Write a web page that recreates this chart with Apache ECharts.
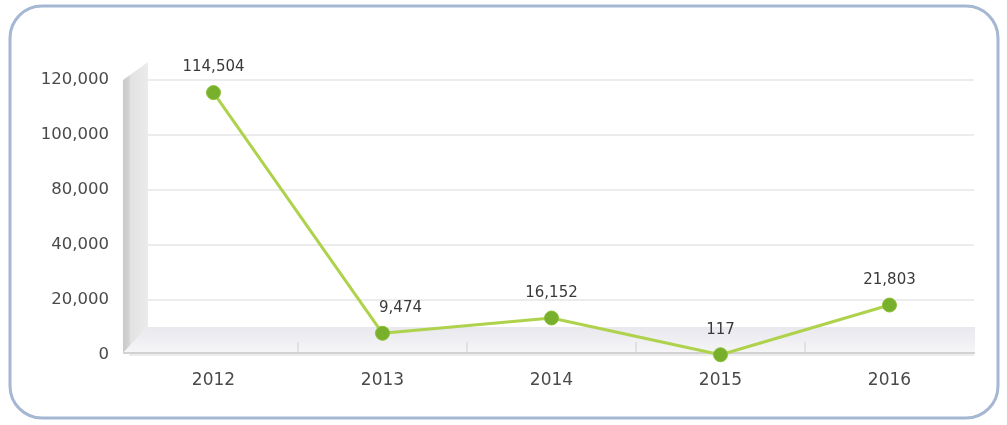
<!DOCTYPE html>
<html><head><meta charset="utf-8">
<script src="https://cdn.jsdelivr.net/npm/echarts@6/dist/echarts.min.js"></script>
<style>html,body{margin:0;padding:0;background:#fff}#c{width:1007px;height:425px}</style>
</head><body><div id="c"></div>
<script>
const categories = ['2012', '2013', '2014', '2015', '2016'];
const values = [114504, 9474, 16152, 117, 21803];
const yTickLabels = ['0', '20,000', '40,000', '80,000', '100,000', '120,000'];
const yMax = 120000;
const yStep = yMax / (yTickLabels.length - 1);

const chart = echarts.init(document.getElementById('c'), null, {renderer: 'canvas'});
const font = "'DejaVu Sans', Verdana, sans-serif";
const seriesData = values.map((v, i) => i === 1 ? {value: v, label: {offset: [18, 0]}} : v);
chart.setOption({
  animation: false,
  backgroundColor: '#ffffff',
  graphic: [
    {type: 'rect', z: -10, shape: {x: 10, y: 6, width: 988, height: 412, r: 32},
     style: {fill: '#ffffff', stroke: '#a6b7d3', lineWidth: 3}},
    {type: 'polygon', z: 1, shape: {points: [[123, 80], [148, 62], [148, 327], [123, 353]]},
     style: {fill: new echarts.graphic.LinearGradient(0, 0, 1, 0, [
       {offset: 0, color: '#c9c9c9'}, {offset: 0.25, color: '#d4d4d4'}, {offset: 0.3, color: '#e2e2e2'}, {offset: 1, color: '#ebebeb'}])}},
    {type: 'polygon', z: 1, shape: {points: [[123, 353], [148, 327], [975, 327], [975, 353]]},
     style: {fill: new echarts.graphic.LinearGradient(0, 0, 0, 1, [
       {offset: 0, color: '#e8e8ee'}, {offset: 1, color: '#f6f6f8'}])}},
    {type: 'line', z: 1, shape: {x1: 123, y1: 353, x2: 975, y2: 353}, style: {stroke: '#d2d2d2', lineWidth: 2}},
    {type: 'line', z: 1, shape: {x1: 298, y1: 342, x2: 298, y2: 353}, style: {stroke: '#cfcfcf', lineWidth: 1}},
    {type: 'line', z: 1, shape: {x1: 467, y1: 342, x2: 467, y2: 353}, style: {stroke: '#cfcfcf', lineWidth: 1}},
    {type: 'line', z: 1, shape: {x1: 636, y1: 342, x2: 636, y2: 353}, style: {stroke: '#cfcfcf', lineWidth: 1}},
    {type: 'line', z: 1, shape: {x1: 805, y1: 342, x2: 805, y2: 353}, style: {stroke: '#cfcfcf', lineWidth: 1}}
  ],
  grid: {left: 129, right: 33, top: 80, bottom: 70, containLabel: false},
  xAxis: {
    type: 'category', data: categories, boundaryGap: true,
    axisLine: {show: false}, axisTick: {show: false},
    axisLabel: {color: '#4a4a4a', fontSize: 17, fontFamily: font, margin: 17}
  },
  yAxis: {
    type: 'value', min: 0, max: yMax, interval: yStep,
    axisLine: {show: false}, axisTick: {show: false},
    axisLabel: {color: '#4a4a4a', fontSize: 16.5, fontFamily: font, margin: 20,
      formatter: v => yTickLabels[Math.round(v / yStep)]},
    splitLine: {lineStyle: {color: '#e6e6e6', width: 1.5}}
  },
  series: [{
    type: 'line', data: seriesData, z: 5,
    lineStyle: {color: '#aed24c', width: 3},
    symbol: 'circle', symbolSize: 14,
    itemStyle: {color: '#78b02c', borderColor: '#8cbf38', borderWidth: 1},
    label: {show: true, position: 'top', distance: 10, color: '#3a3a3a', fontSize: 15, fontFamily: font,
      formatter: p => Number(p.value).toLocaleString('en-US')}
  }]
});
</script></body></html>
